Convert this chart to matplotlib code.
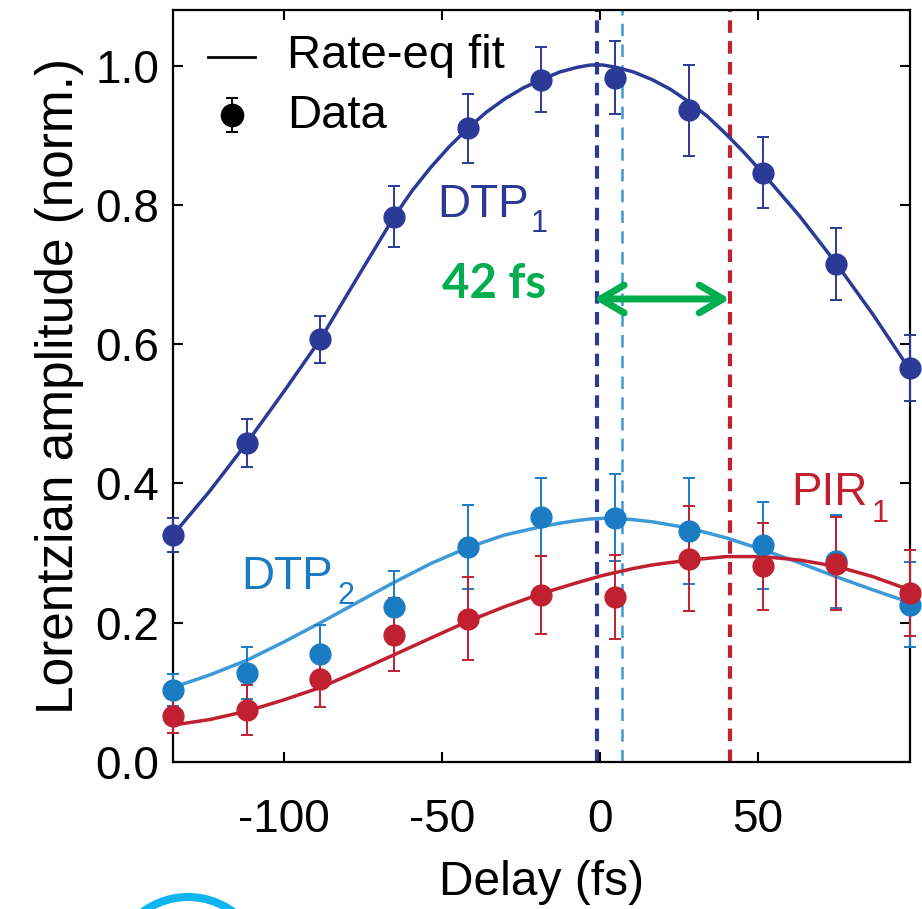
import matplotlib
matplotlib.use("Agg")
import matplotlib.pyplot as plt
from matplotlib.patches import Arc
from matplotlib.transforms import IdentityTransform

plt.rcParams["font.family"] = ["Liberation Sans", "DejaVu Sans"]
plt.rcParams["axes.unicode_minus"] = False

# pump-probe delays (fs)
delay = [-135.0, -111.7, -88.4, -65.1, -41.8, -18.5, 4.8, 28.1, 51.4, 74.7, 98.0]

# normalised Lorentzian amplitudes and their errors
dtp1 = [0.326, 0.458, 0.607, 0.783, 0.910, 0.980, 0.983, 0.936, 0.846, 0.715, 0.566]
dtp1_err = [0.024, 0.035, 0.034, 0.044, 0.050, 0.047, 0.053, 0.065, 0.051, 0.052, 0.047]
dtp2 = [0.103, 0.128, 0.155, 0.222, 0.309, 0.352, 0.351, 0.332, 0.311, 0.288, 0.226]
dtp2_err = [0.023, 0.037, 0.042, 0.052, 0.060, 0.056, 0.062, 0.076, 0.062, 0.067, 0.061]
pir1 = [0.066, 0.075, 0.119, 0.183, 0.206, 0.240, 0.237, 0.292, 0.281, 0.285, 0.243]
pir1_err = [0.025, 0.036, 0.040, 0.052, 0.060, 0.056, 0.061, 0.075, 0.062, 0.067, 0.062]

# rate-equation fit for DTP1
fit1_delay = [-135.0, -123.4, -111.7, -100.1, -88.4, -76.8, -65.1, -59.3, -53.5, -47.6,
              -41.8, -36.0, -30.2, -24.3, -18.5, -12.7, -6.9, -3.0, 0.9, 4.8, 10.6, 16.5,
              22.3, 28.1, 34.0, 39.8, 45.6, 51.4, 63.1, 74.7, 86.4, 98.0]
fit_dtp1 = [0.326, 0.389, 0.458, 0.531, 0.607, 0.695, 0.783, 0.821, 0.854, 0.884,
            0.910, 0.933, 0.952, 0.968, 0.980, 0.991, 0.998, 1.001, 1.001, 0.998, 0.991, 0.980,
            0.966, 0.948, 0.927, 0.902, 0.875, 0.846, 0.784, 0.716, 0.642, 0.563]

# rate-equation fits for DTP2 and PIR1
fit_delay = [-135.0, -123.4, -111.7, -100.1, -88.4, -76.8, -65.1, -53.5, -41.8, -30.2,
             -18.5, -12.7, -6.9, -3.0, 0.9, 4.8, 10.6, 16.5, 28.1, 39.8, 51.4, 63.1,
             74.7, 86.4, 98.0]
fit_dtp2 = [0.107, 0.125, 0.146, 0.172, 0.200, 0.229, 0.258, 0.285, 0.308, 0.326,
            0.338, 0.343, 0.347, 0.349, 0.350, 0.350, 0.348, 0.345, 0.336, 0.322, 0.305, 0.286,
            0.266, 0.247, 0.229]
fit_pir1 = [0.053, 0.061, 0.073, 0.089, 0.107, 0.130, 0.154, 0.178, 0.202, 0.223,
            0.242, 0.250, 0.258, 0.263, 0.268, 0.272, 0.278, 0.283, 0.290, 0.295, 0.295, 0.290,
            0.281, 0.266, 0.247]

# onset markers (fs) and the delay between them
t_dtp1, t_dtp2, t_pir1 = -1.0, 6.8, 41.0
shift_label = "42 fs"

C_DTP1 = "#2b3a96"
C_DTP2 = "#1b7cc4"
C_DTP2_LINE = "#3d9ad6"
C_PIR1 = "#c0202f"
C_GREEN = "#00ad4f"

fig = plt.figure(figsize=(9.22, 9.09), dpi=100)
ax = fig.add_axes([0.1876, 0.1617, 0.7994, 0.8273])

fs = 33

ax.axvline(t_dtp1, color=C_DTP1, lw=3.0, ls=(0, (3, 2)), zorder=1)
ax.axvline(t_dtp2, color=C_DTP2_LINE, lw=1.8, ls=(0, (5, 3.3)), zorder=1)
ax.axvline(t_pir1, color=C_PIR1, lw=3.0, ls=(0, (3, 2)), zorder=1)

ax.plot(fit1_delay, fit_dtp1, color=C_DTP1, lw=2.5, zorder=2)
ax.plot(fit_delay, fit_dtp2, color=C_DTP2_LINE, lw=2.5, zorder=2)
ax.plot(fit_delay, fit_pir1, color=C_PIR1, lw=2.5, zorder=2)

for y, e, c in [(dtp1, dtp1_err, C_DTP1), (dtp2, dtp2_err, C_DTP2), (pir1, pir1_err, C_PIR1)]:
    ax.errorbar(delay, y, yerr=e, fmt="o", color=c, ms=15, elinewidth=1.4,
                capsize=4.5, capthick=1.4, clip_on=False, zorder=3)

# series names with hand-placed subscripts
for name, sub, x0, y0, x1, y1, c in [("DTP", "1", -51.3, 0.782, -21.8, 0.761, C_DTP1),
                                     ("DTP", "2", -113.4, 0.2485, -82.9, 0.227, C_DTP2),
                                     ("PIR", "1", 60.4, 0.369, 86.0, 0.345, C_PIR1)]:
    ax.text(x0, y0, name, color=c, fontsize=fs, va="baseline")
    ax.text(x1, y1, sub, color=c, fontsize=22, va="baseline")

ax.text(-33.5, 0.686, shift_label, color=C_GREEN, fontsize=34, fontweight="bold",
        family=["Lato", "DejaVu Sans"], ha="center", va="center")
ax.annotate("", xy=(t_dtp1 - 1, 0.665), xytext=(t_pir1, 0.665),
            arrowprops=dict(arrowstyle="<->,head_length=1.7,head_width=1.0",
                            color=C_GREEN, lw=5, capstyle="round", joinstyle="round",
                            shrinkA=0, shrinkB=0))

# legend, drawn in axes fractions
ax.plot([0.048, 0.111], [0.9375, 0.9375], color="black", lw=2.0, transform=ax.transAxes)
ax.errorbar([0.080], [0.860], yerr=[0.0226], fmt="o", color="black", ms=16,
            elinewidth=1.4, capsize=4.5, capthick=1.4, transform=ax.transAxes)
ax.text(0.1547, 0.923, "Rate-eq fit", fontsize=34, va="baseline", transform=ax.transAxes)
ax.text(0.1547, 0.843, "Data", fontsize=34, va="baseline", transform=ax.transAxes)

ax.set_xlim(-135, 98)
ax.set_ylim(0.0, 1.08)
ax.set_xticks([-100, -50, 0, 50])
ax.set_yticks([0.0, 0.2, 0.4, 0.6, 0.8, 1.0])
ax.set_yticklabels(["0.0", "0.2", "0.4", "0.6", "0.8", "1.0"])
ax.tick_params(direction="in", length=7, width=1.5, top=True, right=True,
               labelsize=fs)
ax.tick_params(axis="x", pad=26)
ax.tick_params(axis="y", pad=10)
for s in ax.spines.values():
    s.set_linewidth(1.6)

ax.set_xlabel("Delay (fs)", fontsize=34.5, labelpad=13)
ax.set_ylabel("Lorentzian amplitude (norm.)", fontsize=37, labelpad=8)

# cyan ring peeking in at the bottom edge
fig.add_artist(Arc((188, -64), 152, 152, theta1=0, theta2=180, color="#10b4ee",
                   lw=5.8, transform=IdentityTransform(), clip_on=False))

fig.savefig("out.png", dpi=100)
